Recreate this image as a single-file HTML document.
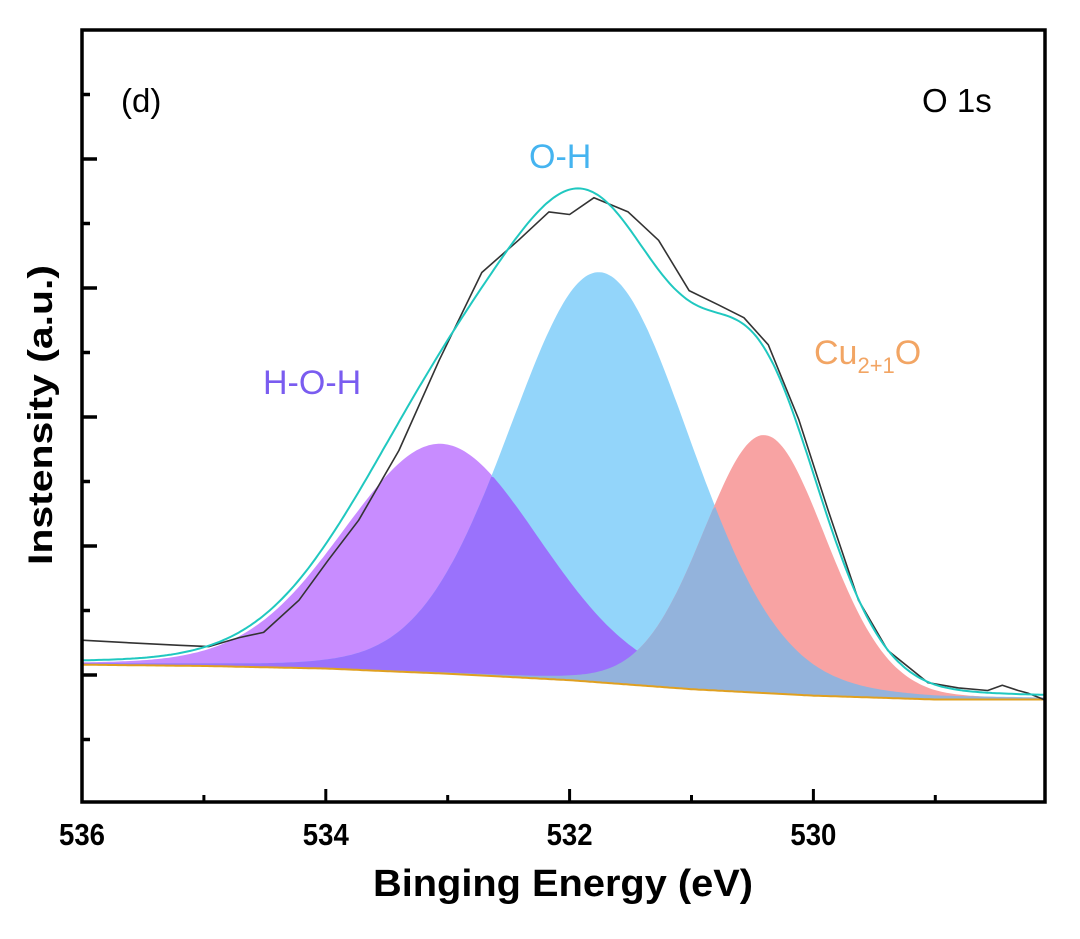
<!DOCTYPE html>
<html><head><meta charset="utf-8"><style>
html,body{margin:0;padding:0;background:#fff;}
svg{display:block;font-family:"Liberation Sans",sans-serif;}
</style></head><body>
<svg id="chart" width="1080" height="939" viewBox="0 0 1080 939">
<g id="fills"></g>
<g id="lines"></g>
<rect x="82" y="30" width="963" height="772" fill="none" stroke="#000" stroke-width="3.5"/>
<g id="ticks"></g>
<text x="121" y="112" font-size="33">(d)</text>
<text x="922" y="112" font-size="33">O 1s</text>
<text x="529" y="168" font-size="34" fill="#45b4f0">O-H</text>
<text x="263" y="394" font-size="34" fill="#7a5cf0">H-O-H</text>
<text x="814" y="364" font-size="34" fill="#f2a564">Cu<tspan font-size="22" dy="9">2+1</tspan><tspan dy="-9">O</tspan></text>
<text transform="translate(52,415) rotate(-90)" text-anchor="middle" font-size="34" font-weight="bold" textLength="300" lengthAdjust="spacingAndGlyphs">Instensity (a.u.)</text>
<text x="563" y="896" text-anchor="middle" font-size="38" font-weight="bold" textLength="380" lengthAdjust="spacingAndGlyphs">Binging Energy (eV)</text>
</svg>
<script>
const xTickLabels=[536,534,532,530];
const xMinor=[535,533,531,529];
const yMajor=[0,1,2,3,4];
const yMinor=[-0.5,0.5,1.5,2.5,3.5,4.5];
const bgE=[536,535,534,533,532,531,530,529,528.1];
const bgV=[0.08,0.07,0.05,0.01,-0.04,-0.11,-0.16,-0.19,-0.19];
const peakNames=["hoh","oh","cu"];
const peakCenters=[533.05,531.75,530.4];
const peakHeights=[1.78,3.18,2.0];
const peakFwhm=[1.9,1.75,1.2];
const rawE=[536,535.61,535.2,534.96,534.71,534.51,534.22,533.98,533.73,533.4,533.07,532.72,532.42,532.17,532.0,531.8,531.52,531.27,531.02,530.78,530.57,530.37,530.12,529.88,529.63,529.39,529.06,528.81,528.57,528.45,528.32,528.24,528.11];
const rawV=[0.27,0.25,0.23,0.22,0.29,0.33,0.58,0.89,1.2,1.74,2.44,3.12,3.37,3.59,3.57,3.7,3.59,3.37,2.98,2.87,2.77,2.56,1.98,1.28,0.58,0.19,-0.06,-0.1,-0.12,-0.08,-0.12,-0.14,-0.19];

const X0=536,X1=528.1,PX0=82,PX1=1045;
const sx=e=>PX0+(X0-e)/(X0-X1)*(PX1-PX0);
const sy=v=>675-v*129;
const NS="http://www.w3.org/2000/svg";
function mk(tag,attrs,parent){const el=document.createElementNS(NS,tag);for(const k in attrs)el.setAttribute(k,attrs[k]);parent.appendChild(el);return el;}
function bg(e){for(let i=0;i<bgE.length-1;i++){if(e<=bgE[i]&&e>=bgE[i+1]){const t=(bgE[i]-e)/(bgE[i]-bgE[i+1]);return bgV[i]+t*(bgV[i+1]-bgV[i]);}}return bgV[bgV.length-1];}
function pv(i,e){const w=peakFwhm[i]/2,d=e-peakCenters[i];const g=Math.exp(-Math.LN2*d*d/(w*w));const l=1/(1+d*d/(w*w));return peakHeights[i]*(0.9*g+0.1*l);}
const grid=[];for(let k=0;k<=400;k++)grid.push(X0-(X0-X1)*k/400);
function areaPath(f){let d="";grid.forEach((e,i)=>{d+=(i?"L":"M")+sx(e).toFixed(1)+","+sy(bg(e)+f(e)).toFixed(1);});for(let i=grid.length-1;i>=0;i--){d+="L"+sx(grid[i]).toFixed(1)+","+sy(bg(grid[i])).toFixed(1);}return d+"Z";}
function linePath(es,f){return es.map((e,i)=>(i?"L":"M")+sx(e).toFixed(1)+","+sy(f(e,i)).toFixed(1)).join("");}
const fills=document.getElementById("fills");
const cols=["#c88cff","#93d5fa","#f8a3a3"];
for(let i=0;i<3;i++){
  const p=mk("path",{d:areaPath(e=>pv(i,e)),fill:cols[i]},fills);
  
  
}
const o1=mk("path",{d:areaPath(e=>Math.min(pv(0,e),pv(1,e))),fill:"#9a72fc"},fills);


const o2=mk("path",{d:areaPath(e=>Math.min(pv(1,e),pv(2,e))),fill:"#93b3dc"},fills);


const lines=document.getElementById("lines");
const bl=mk("path",{d:linePath(grid,e=>bg(e)),fill:"none",stroke:"#e0a020","stroke-width":2},lines);


const raw=mk("path",{d:linePath(rawE,(e,i)=>rawV[i]),fill:"none",stroke:"#333","stroke-width":1.6,"stroke-linejoin":"round"},lines);


const env=mk("path",{d:linePath(grid,e=>bg(e)+pv(0,e)+pv(1,e)+pv(2,e)),fill:"none",stroke:"#20c8c0","stroke-width":2},lines);


const tk=document.getElementById("ticks");
xTickLabels.forEach(v=>{
  const l=mk("line",{x1:sx(v),x2:sx(v),y1:802,y2:789,stroke:"#000","stroke-width":3},tk);
  
  
  const t=mk("text",{x:sx(v),y:845,"text-anchor":"middle","font-size":31,"font-weight":"bold",textLength:46,lengthAdjust:"spacingAndGlyphs"},tk);
  t.textContent=v;
  
  
});
xMinor.forEach(v=>{
  const l=mk("line",{x1:sx(v),x2:sx(v),y1:802,y2:795,stroke:"#000","stroke-width":3},tk);
  
  
});
yMajor.forEach(v=>{
  const l=mk("line",{x1:82,x2:97,y1:sy(v),y2:sy(v),stroke:"#000","stroke-width":3.5},tk);
  
  
});
yMinor.forEach(v=>{
  const l=mk("line",{x1:82,x2:90,y1:sy(v),y2:sy(v),stroke:"#000","stroke-width":3.5},tk);
  
  
});
</script>
</body></html>
